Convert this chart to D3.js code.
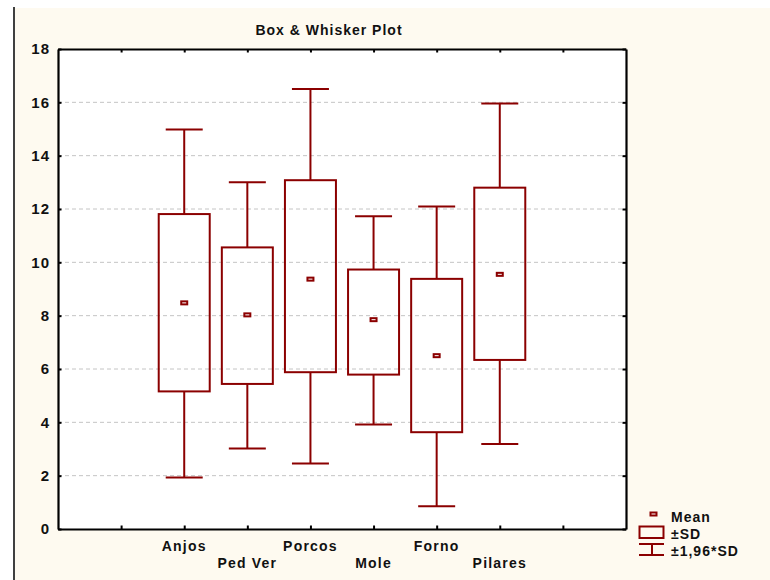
<!DOCTYPE html>
<html>
<head>
<meta charset="utf-8">
<script src="https://cdn.jsdelivr.net/npm/d3@7"></script>
<style>
  html, body { margin: 0; padding: 0; background: #ffffff; }
  svg { display: block; }
  text { font-family: "Liberation Sans", Arial, sans-serif; font-weight: bold; fill: #111; }
</style>
</head>
<body>
<svg id="chart" width="770" height="580"></svg>
<script>
// ---- data ----
const categories = ["Anjos", "Ped Ver", "Porcos", "Mole", "Forno", "Pilares"];
const meanValues = [8.48, 8.03, 9.37, 7.85, 6.50, 9.55];
const sdLow      = [5.16, 5.44, 5.88, 5.79, 3.63, 6.34];
const sdHigh     = [11.81, 10.56, 13.08, 9.73, 9.38, 12.80];
const whiskLow   = [1.93, 3.02, 2.46, 3.92, 0.85, 3.19];
const whiskHigh  = [14.98, 13.00, 16.50, 11.73, 12.09, 15.96];
const yTicks = [0, 2, 4, 6, 8, 10, 12, 14, 16, 18];
const xTickSlots = [1, 2, 3, 4, 5, 6, 7, 8];
const categorySlots = [2, 3, 4, 5, 6, 7];
const legendLabels = ["Mean", "\u00b1SD", "\u00b11,96*SD"];
const titleText = "Box & Whisker Plot";

const red = "#8b0000";
const svg = d3.select("#chart");

// background panel
svg.append("rect").attr("x", 15).attr("y", 8).attr("width", 755).attr("height", 572).attr("fill", "#fefaf0");
svg.append("line").attr("x1", 14).attr("x2", 14).attr("y1", 7).attr("y2", 580)
  .attr("stroke", "#000").attr("stroke-width", 1.5);

const L = 58, R = 626, T = 49, B = 529;
const x = d3.scaleLinear().domain([0, 9]).range([L, R]);
const y = d3.scaleLinear().domain([0, 18]).range([B, T]);

// plot area
svg.append("rect").attr("x", L).attr("y", T).attr("width", R - L).attr("height", B - T).attr("fill", "#fff");

// grid
svg.append("g").selectAll("line").data(yTicks.filter(v => v > 0 && v < 18)).join("line")
  .attr("x1", L).attr("x2", R).attr("y1", d => y(d)).attr("y2", d => y(d))
  .attr("stroke", "#c4c4c4").attr("stroke-width", 1).attr("stroke-dasharray", "4,3");

// title
svg.append("text").attr("x", 329).attr("y", 35).attr("text-anchor", "middle")
  .style("font-size", "14px").style("letter-spacing", "1px").text(titleText);

// axes
function styleAxis(g) {
  g.select(".domain").attr("stroke", "#000").attr("stroke-width", 2.2);
  g.selectAll(".tick line").attr("stroke", "#000").attr("stroke-width", 2);
}
const gLeft = svg.append("g").attr("transform", `translate(${L},0)`)
  .call(d3.axisLeft(y).tickValues(yTicks).tickSize(-3.5).tickSizeOuter(0).tickPadding(8));
gLeft.selectAll("text").style("font-size", "15px").style("letter-spacing", "1px")
  .attr("font-family", null).attr("fill", "#111");
styleAxis(gLeft);

const gRight = svg.append("g").attr("transform", `translate(${R},0)`)
  .call(d3.axisRight(y).tickValues(yTicks).tickSize(-3.5).tickSizeOuter(0).tickFormat(""));
styleAxis(gRight);

const gBottom = svg.append("g").attr("transform", `translate(0,${B})`)
  .call(d3.axisBottom(x).tickValues(xTickSlots).tickSize(-3.5).tickSizeOuter(0).tickFormat(""));
styleAxis(gBottom);

const gTop = svg.append("g").attr("transform", `translate(0,${T})`)
  .call(d3.axisTop(x).tickValues(xTickSlots).tickSize(-3.5).tickSizeOuter(0).tickFormat(""));
styleAxis(gTop);

// category labels (staggered)
svg.append("g").selectAll("text").data(categories).join("text")
  .attr("x", (d, i) => x(categorySlots[i]))
  .attr("y", (d, i) => i % 2 === 0 ? 551 : 567.5)
  .attr("text-anchor", "middle")
  .style("font-size", "14px").style("letter-spacing", "1.2px")
  .text(d => d);

// boxes & whiskers
const boxW = 51, capW = 37;
const gBox = svg.append("g");
categories.forEach((c, i) => {
  const cx = x(categorySlots[i]);
  const g = gBox.append("g");
  // whisker stems
  g.append("line").attr("x1", cx).attr("x2", cx).attr("y1", y(whiskHigh[i])).attr("y2", y(sdHigh[i]))
    .attr("stroke", red).attr("stroke-width", 2);
  g.append("line").attr("x1", cx).attr("x2", cx).attr("y1", y(sdLow[i])).attr("y2", y(whiskLow[i]))
    .attr("stroke", red).attr("stroke-width", 2);
  // caps
  [whiskHigh[i], whiskLow[i]].forEach(v => {
    g.append("line").attr("x1", cx - capW / 2).attr("x2", cx + capW / 2).attr("y1", y(v)).attr("y2", y(v))
      .attr("stroke", red).attr("stroke-width", 2);
  });
  // box
  g.append("rect").attr("x", cx - boxW / 2).attr("width", boxW)
    .attr("y", y(sdHigh[i])).attr("height", y(sdLow[i]) - y(sdHigh[i]))
    .attr("fill", "none").attr("stroke", red).attr("stroke-width", 2);
  // mean
  g.append("rect").attr("x", cx - 3).attr("y", y(meanValues[i]) - 1.5).attr("width", 6).attr("height", 3)
    .attr("fill", "#fff").attr("stroke", red).attr("stroke-width", 2);
});

// legend
const lg = svg.append("g");
lg.append("rect").attr("x", 650.5).attr("y", 512.5).attr("width", 6).attr("height", 3)
  .attr("fill", "#fff").attr("stroke", red).attr("stroke-width", 2);
lg.append("rect").attr("x", 639.5).attr("y", 526.5).attr("width", 24).attr("height", 11.5)
  .attr("fill", "none").attr("stroke", red).attr("stroke-width", 2);
lg.append("line").attr("x1", 639).attr("x2", 664).attr("y1", 544).attr("y2", 544).attr("stroke", red).attr("stroke-width", 2);
lg.append("line").attr("x1", 639).attr("x2", 664).attr("y1", 555).attr("y2", 555).attr("stroke", red).attr("stroke-width", 2);
lg.append("line").attr("x1", 652).attr("x2", 652).attr("y1", 544).attr("y2", 555).attr("stroke", red).attr("stroke-width", 2);
lg.selectAll("text").data(legendLabels).join("text")
  .attr("x", 671).attr("y", (d, i) => 521.5 + i * 17)
  .style("font-size", "14px").style("letter-spacing", "1px")
  .text(d => d);
</script>
</body>
</html>
